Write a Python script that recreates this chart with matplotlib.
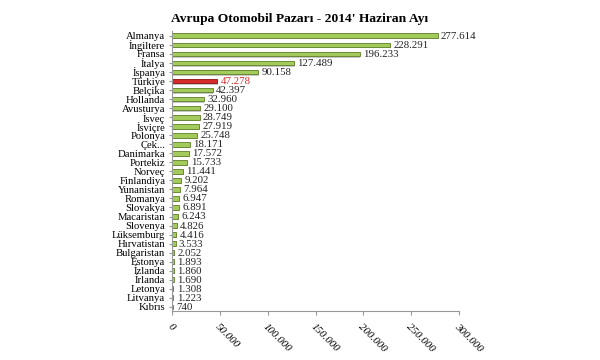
import matplotlib.pyplot as plt

plt.rcParams['font.family'] = ['Liberation Serif', 'DejaVu Serif']

countries = ['Almanya', 'İngiltere', 'Fransa', 'İtalya', 'İspanya', 'Türkiye', 'Belçika',
             'Hollanda', 'Avusturya', 'İsveç', 'İsviçre', 'Polonya', 'Çek...', 'Danimarka',
             'Portekiz', 'Norveç', 'Finlandiya', 'Yunanistan', 'Romanya', 'Slovakya',
             'Macaristan', 'Slovenya', 'Lüksemburg', 'Hırvatistan', 'Bulgaristan', 'Estonya',
             'İzlanda', 'İrlanda', 'Letonya', 'Litvanya', 'Kıbrıs']
sales = [277614, 228291, 196233, 127489, 90158, 47278, 42397, 32960, 29100, 28749,
         27919, 25748, 18171, 17572, 15733, 11441, 9202, 7964, 6947, 6891, 6243, 4826,
         4416, 3533, 2052, 1893, 1860, 1690, 1308, 1223, 740]
highlight = 'Türkiye'
xticks = [0, 50000, 100000, 150000, 200000, 250000, 300000]


def fmt(v):
    return f'{v:,}'.replace(',', '.')


fig = plt.figure(figsize=(6, 3.6), dpi=100)
ax = fig.add_axes([0.287, 0.135, 0.478, 0.778])

pos = list(range(len(countries)))
colors = ['#d42a2a' if c == highlight else '#a3cb5c' for c in countries]
edges = ['#8a1010' if c == highlight else '#5d7f28' for c in countries]

# soft shadow under the bars
ax.barh([p + 0.14 for p in pos], sales, height=0.52, color='#c8c8c8', left=700, zorder=1)
ax.barh(pos, sales, height=0.52, color=colors, edgecolor=edges, linewidth=0.6, zorder=2)

for p, v, c in zip(pos, sales, countries):
    ax.text(v + 3500, p + 0.05, fmt(v), va='center', ha='left', fontsize=7.8,
            color='#d42a2a' if c == highlight else '#222222')

ax.set_ylim(len(countries) - 0.5, -0.5)
ax.set_xlim(0, 300000)
ax.set_yticks(pos)
ax.set_yticklabels(countries, fontsize=7.7)
ax.set_xticks(xticks)
ax.set_xticklabels([fmt(t) for t in xticks], rotation=-45, ha='left', va='top',
                   fontsize=7.8, style='italic', rotation_mode='anchor')

for s in ['top', 'right']:
    ax.spines[s].set_visible(False)
ax.spines['left'].set_color('#999999')
ax.spines['bottom'].set_color('#999999')
ax.tick_params(axis='y', length=2, color='#999999', pad=3)
ax.tick_params(axis='x', length=3, color='#999999', pad=5)

fig.text(0.5, 0.947, "Avrupa Otomobil Pazarı - 2014' Haziran Ayı", ha='center', va='center',
         fontsize=9.7, fontweight='bold')

plt.savefig('out.png', dpi=100)
plt.close()
